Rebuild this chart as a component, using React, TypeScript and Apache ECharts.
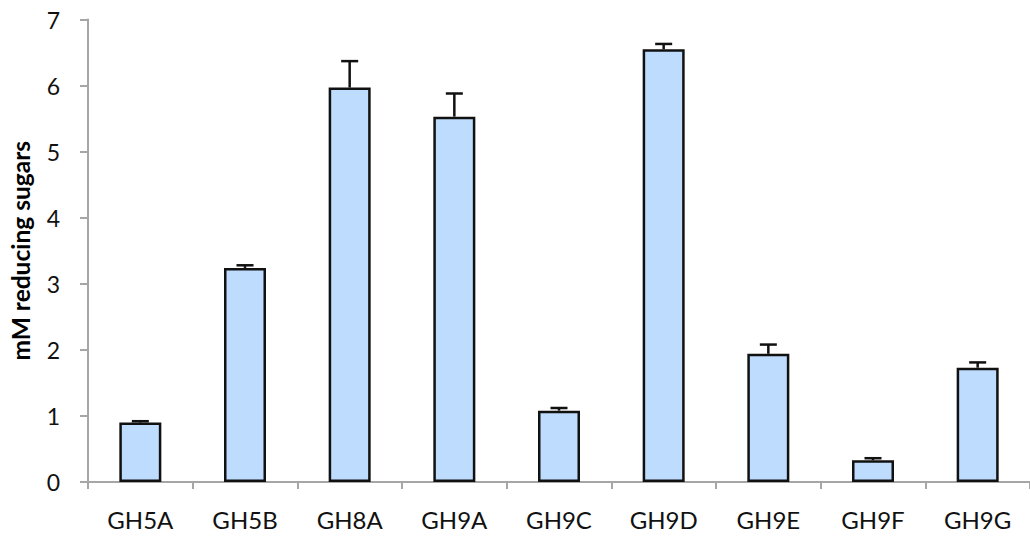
import React, { useEffect, useRef } from "react";
import * as echarts from "echarts";

const categories = ["GH5A", "GH5B", "GH8A", "GH9A", "GH9C", "GH9D", "GH9E", "GH9F", "GH9G"];
const values = [0.9, 3.24, 5.97, 5.53, 1.08, 6.55, 1.94, 0.33, 1.73];
const errorTops = [0.92, 3.28, 6.37, 5.88, 1.12, 6.63, 2.08, 0.36, 1.81];
const yTicks = [0, 1, 2, 3, 4, 5, 6, 7];

export default function App() {
  const ref = useRef<HTMLDivElement>(null);
  useEffect(() => {
    if (!ref.current) return;
    const chart = echarts.init(ref.current, null, { renderer: "svg" });
    const font = "Lato, 'Open Sans', sans-serif";
    chart.setOption({
      animation: false,
      backgroundColor: "#ffffff",
      grid: { left: 83, top: 19.5, width: 954, height: 462.5, containLabel: false },
      xAxis: {
        type: "category",
        data: categories,
        axisLine: { show: true, lineStyle: { color: "#A6A6A6", width: 2 } },
        axisTick: { show: true, alignWithLabel: false, length: 7, lineStyle: { color: "#A6A6A6", width: 2 } },
        axisLabel: { color: "#111", fontSize: 24, fontFamily: font, margin: 25 },
        splitLine: { show: false },
      },
      yAxis: {
        type: "value",
        min: yTicks[0],
        max: yTicks[yTicks.length - 1],
        interval: 1,
        name: "mM reducing sugars",
        nameLocation: "middle",
        nameRotate: 90,
        nameGap: 55,
        nameTextStyle: { color: "#000", fontSize: 24.5, fontWeight: "bold", fontFamily: font },
        axisLine: { show: true, lineStyle: { color: "#A6A6A6", width: 2 } },
        axisTick: { show: true, length: 8, lineStyle: { color: "#A6A6A6", width: 2 } },
        axisLabel: { color: "#111", fontSize: 23, fontFamily: font, margin: 28 },
        splitLine: { show: false },
      },
      series: [
        {
          type: "bar",
          data: values,
          barWidth: 42,
          itemStyle: { color: "#BEDCFD", borderColor: "#111", borderWidth: 2.5 },
          z: 2,
        },
        {
          type: "custom",
          z: 3,
          data: values.map((v, i) => [i, v, errorTops[i]]),
          renderItem: (params: any, api: any) => {
            const i = api.value(0);
            const base = api.coord([i, api.value(1)]);
            const top = api.coord([i, api.value(2)]);
            const hw = 8.5;
            const style = { stroke: "#111", lineWidth: 2.5 };
            return {
              type: "group",
              children: [
                { type: "line", shape: { x1: base[0], y1: base[1], x2: top[0], y2: top[1] }, style },
                { type: "line", shape: { x1: top[0] - hw, y1: top[1], x2: top[0] + hw, y2: top[1] }, style },
              ],
            };
          },
        },
      ],
    });
    return () => chart.dispose();
  }, []);
  return <div ref={ref} style={{ position: "absolute", left: 0, top: 0, width: 1030, height: 537 }} />;
}
